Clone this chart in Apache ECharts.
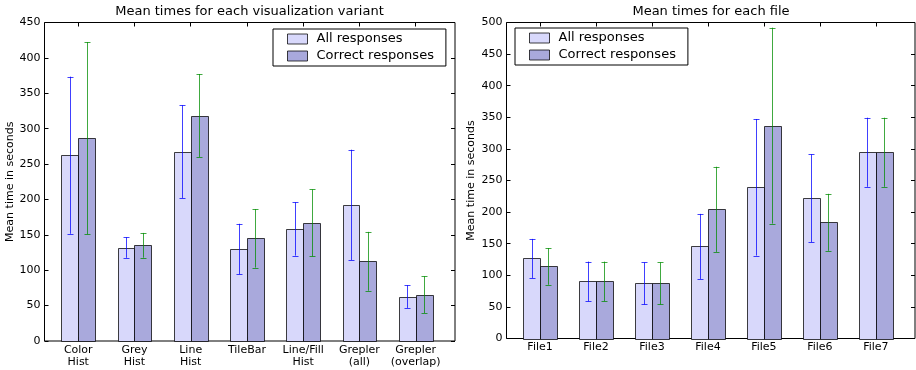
<!DOCTYPE html>
<html>
<head>
<meta charset="utf-8">
<script src="https://cdn.jsdelivr.net/npm/echarts@6/dist/echarts.min.js"></script>
<style>html,body{margin:0;padding:0;background:#fff}#c{width:916px;height:370px}</style>
</head>
<body>
<div id="c"></div>
<script>
// ---- data ----
var variantCategories = ['Color\nHist', 'Grey\nHist', 'Line\nHist', 'TileBar', 'Line/Fill\nHist', 'Grepler\n(all)', 'Grepler\n(overlap)'];
var variantAllMeans = [262.5, 132, 267.6, 130, 158.3, 192.3, 62.7];
var variantAllErr = [111, 14.5, 65.5, 35.6, 37.7, 78, 16];
var variantCorrectMeans = [286.5, 135.2, 318.5, 145, 166.8, 112.6, 65.5];
var variantCorrectErr = [135.9, 17.5, 58.7, 41.3, 47.3, 41.6, 26];

var fileCategories = ['File1', 'File2', 'File3', 'File4', 'File5', 'File6', 'File7'];
var fileAllMeans = [126.7, 90.3, 87.1, 145.7, 239.2, 221.8, 294.7];
var fileAllErr = [30.9, 31.4, 33.3, 51.5, 108, 69.5, 54.7];
var fileCorrectMeans = [114, 90.3, 87.1, 204.4, 336.8, 183.8, 294.7];
var fileCorrectErr = [29, 31.4, 33.3, 67.4, 155, 45.1, 54.7];

var leftYMax = 450;
var rightYMax = 500;
var yTickStep = 50;

// ---- style ----
var FONT = 'DejaVu Sans';
var ALL_COLOR = '#d8d8fb';
var CORRECT_COLOR = '#a9a9dc';
var EDGE = 'rgba(0,0,0,0.75)';
var ALL_ERR = 'rgba(0,0,255,0.75)';
var CORRECT_ERR = 'rgba(0,140,0,0.75)';
var BAR_W = 0.3;

function positions(n) { var a = []; for (var i = 0; i < n; i++) a.push(i); return a; }

function makeData(means, errs) {
  return means.map(function (m, i) { return [i, m, errs[i]]; });
}

function barRender(offset, errColor) {
  return function (params, api) {
    var x = api.value(0), v = api.value(1), e = api.value(2);
    var x0 = x + offset, x1 = x + offset + BAR_W, xc = x + offset + BAR_W / 2;
    var p0 = api.coord([x0, v]);
    var p1 = api.coord([x1, 0]);
    var top = api.coord([xc, v + e]);
    var bot = api.coord([xc, v - e]);
    var cx = Math.round(top[0]) + 0.5;
    var cap = 3;
    return {
      type: 'group',
      children: [
        {
          type: 'rect',
          shape: { x: Math.round(p0[0]) + 0.5, y: Math.round(p0[1]) + 0.5, width: Math.round(p1[0]) - Math.round(p0[0]), height: Math.round(p1[1]) - Math.round(p0[1]) },
          style: { fill: api.visual('color'), stroke: EDGE, lineWidth: 1 }
        },
        { type: 'line', shape: { x1: cx, y1: top[1], x2: cx, y2: bot[1] }, style: { stroke: errColor, lineWidth: 1 } },
        { type: 'line', shape: { x1: cx - cap, y1: Math.round(top[1]) + 0.5, x2: cx + cap, y2: Math.round(top[1]) + 0.5 }, style: { stroke: errColor, lineWidth: 1 } },
        { type: 'line', shape: { x1: cx - cap, y1: Math.round(bot[1]) + 0.5, x2: cx + cap, y2: Math.round(bot[1]) + 0.5 }, style: { stroke: errColor, lineWidth: 1 } }
      ]
    };
  };
}

function xAxes(gridIndex, cats) {
  var pos = positions(cats.length);
  return [
    {
      type: 'value', gridIndex: gridIndex, min: -0.6, max: 6.7, position: 'bottom',
      splitLine: { show: false }, axisLine: { show: false, onZero: false },
      axisTick: { show: true, inside: true, length: 4, customValues: pos, lineStyle: { color: '#000' } },
      axisLabel: { show: true, customValues: pos, formatter: function (v) { return cats[Math.round(v)]; },
        fontFamily: FONT, fontSize: 11, color: '#000', lineHeight: 12, margin: 3, align: 'center' }
    },
    {
      type: 'value', gridIndex: gridIndex, min: -0.6, max: 6.7, position: 'top',
      splitLine: { show: false }, axisLine: { show: false, onZero: false },
      axisTick: { show: true, inside: true, length: 4, customValues: pos, lineStyle: { color: '#000' } },
      axisLabel: { show: false }
    }
  ];
}

function yAxes(gridIndex, maxV, nameGap) {
  return [
    {
      type: 'value', gridIndex: gridIndex, min: 0, max: maxV, interval: yTickStep, position: 'left',
      name: 'Mean time in seconds', nameLocation: 'middle', nameGap: nameGap, nameRotate: 90,
      nameTextStyle: { fontFamily: FONT, fontSize: 11, color: '#000' },
      splitLine: { show: false }, axisLine: { show: false, onZero: false },
      axisTick: { show: true, inside: true, length: 4, lineStyle: { color: '#000' } },
      axisLabel: { fontFamily: FONT, fontSize: 11, color: '#000', margin: 4 }
    },
    {
      type: 'value', gridIndex: gridIndex, min: 0, max: maxV, interval: yTickStep, position: 'right',
      splitLine: { show: false }, axisLine: { show: false, onZero: false },
      axisTick: { show: true, inside: true, length: 4, lineStyle: { color: '#000' } },
      axisLabel: { show: false }
    }
  ];
}

var legendCommon = {
  orient: 'vertical', icon: 'rect', itemWidth: 20, itemHeight: 10, itemGap: 3,
  borderColor: '#000', borderWidth: 1, borderRadius: 0, backgroundColor: '#fff',
  padding: [3, 12, 3, 14],
  itemStyle: { borderColor: EDGE, borderWidth: 1 },
  textStyle: { fontFamily: FONT, fontSize: 13, color: '#000', lineHeight: 14, padding: [0, 0, 0, 4] },
  data: ['All responses', 'Correct responses']
};

var option = {
  animation: false,
  backgroundColor: '#fff',
  title: [
    { text: 'Mean times for each visualization variant', left: 249.5, top: 5, textAlign: 'center', padding: 0,
      textStyle: { fontFamily: FONT, fontSize: 13, fontWeight: 'normal', color: '#000' } },
    { text: 'Mean times for each file', left: 711, top: 5, textAlign: 'center', padding: 0,
      textStyle: { fontFamily: FONT, fontSize: 13, fontWeight: 'normal', color: '#000' } }
  ],
  legend: [
    Object.assign({}, legendCommon, { left: 273, top: 29 }),
    Object.assign({}, legendCommon, { left: 515, top: 28 })
  ],
  grid: [
    { left: 44.5, top: 22.5, width: 410.5, height: 318.5, show: true, borderColor: '#000', borderWidth: 1, backgroundColor: 'transparent' },
    { left: 506.5, top: 22.5, width: 408.5, height: 316, show: true, borderColor: '#000', borderWidth: 1, backgroundColor: 'transparent' }
  ],
  xAxis: xAxes(0, variantCategories).concat(xAxes(1, fileCategories)),
  yAxis: yAxes(0, leftYMax, 29).concat(yAxes(1, rightYMax, 30)),
  series: [
    { type: 'custom', name: 'All responses', xAxisIndex: 0, yAxisIndex: 0, itemStyle: { color: ALL_COLOR },
      renderItem: barRender(-BAR_W, ALL_ERR), data: makeData(variantAllMeans, variantAllErr), clip: false },
    { type: 'custom', name: 'Correct responses', xAxisIndex: 0, yAxisIndex: 0, itemStyle: { color: CORRECT_COLOR },
      renderItem: barRender(0, CORRECT_ERR), data: makeData(variantCorrectMeans, variantCorrectErr), clip: false },
    { type: 'custom', name: 'All responses', xAxisIndex: 2, yAxisIndex: 2, itemStyle: { color: ALL_COLOR },
      renderItem: barRender(-BAR_W, ALL_ERR), data: makeData(fileAllMeans, fileAllErr), clip: false },
    { type: 'custom', name: 'Correct responses', xAxisIndex: 2, yAxisIndex: 2, itemStyle: { color: CORRECT_COLOR },
      renderItem: barRender(0, CORRECT_ERR), data: makeData(fileCorrectMeans, fileCorrectErr), clip: false }
  ]
};

var chart = echarts.init(document.getElementById('c'), null, { renderer: 'canvas' });
chart.setOption(option);
</script>
</body>
</html>
